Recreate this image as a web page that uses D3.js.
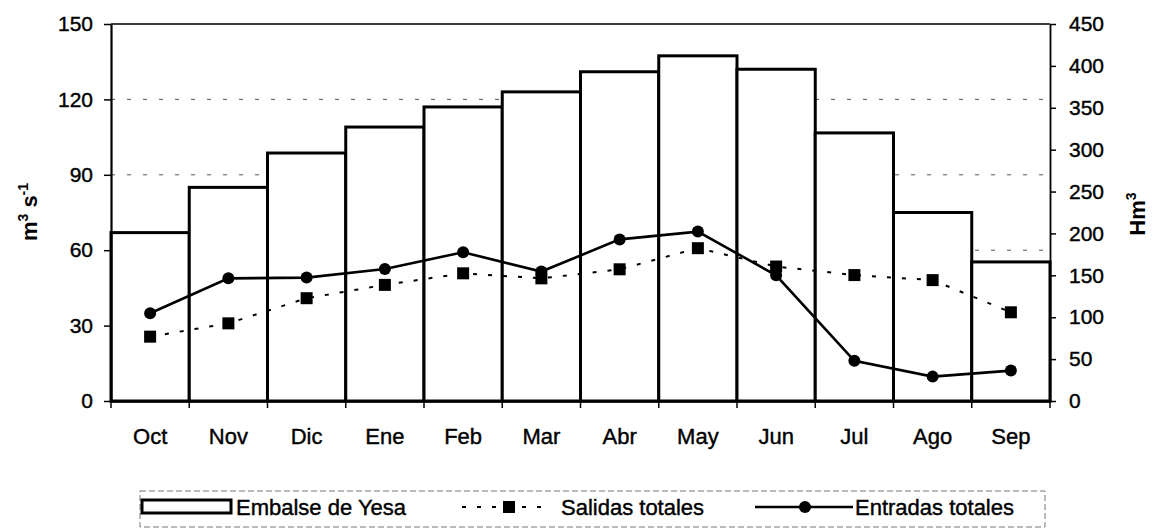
<!DOCTYPE html>
<html>
<head>
<meta charset="utf-8">
<script src="https://cdn.jsdelivr.net/npm/d3@7"></script>
<style>
  html, body { margin: 0; padding: 0; background: #fff; }
  svg { display: block; font-family: "Liberation Sans", Arial, sans-serif; }
</style>
</head>
<body>
<svg id="chart" width="1153" height="529"></svg>
<script>
// ---- data ----
const months = ["Oct","Nov","Dic","Ene","Feb","Mar","Abr","May","Jun","Jul","Ago","Sep"];
const embalse = [201, 255, 296, 327, 351, 369, 393, 412, 396, 320, 225, 166];   // Hm3 (right axis)
const salidas = [25.6, 30.9, 40.9, 46.2, 50.8, 48.8, 52.4, 60.8, 53.5, 50.1, 48.1, 35.3]; // m3 s-1
const entradas = [34.9, 48.8, 49.1, 52.5, 59.2, 51.5, 64.3, 67.4, 50.0, 16.0, 9.7, 12.1]; // m3 s-1
const leftTicks = [0, 30, 60, 90, 120, 150];
const rightTicks = [0, 50, 100, 150, 200, 250, 300, 350, 400, 450];
const gridValues = [60, 90, 120];
const legendLabels = ["Embalse de Yesa", "Salidas totales", "Entradas totales"];

// ---- layout ----
const svg = d3.select("#chart");
const L = 111, R = 1050, T = 24, B = 401;

const x = d3.scaleBand().domain(months).range([L, R]).padding(0);
const yL = d3.scaleLinear().domain([0, 150]).range([B, T]);
const yR = d3.scaleLinear().domain([0, 450]).range([B, T]);

// gridlines (behind bars)
svg.append("g").selectAll("line").data(gridValues).join("line")
  .attr("x1", L).attr("x2", R)
  .attr("y1", d => yL(d)).attr("y2", d => yL(d))
  .attr("stroke", "#555").attr("stroke-width", 1)
  .attr("stroke-dasharray", "4,12");

// bars
svg.append("g").selectAll("rect").data(embalse).join("rect")
  .attr("x", (d, i) => x(months[i]))
  .attr("y", d => yR(d))
  .attr("width", x.bandwidth())
  .attr("height", d => B - yR(d))
  .attr("fill", "#fff")
  .attr("stroke", "#000")
  .attr("stroke-width", 3);

// plot frame top
svg.append("line").attr("x1", L).attr("x2", R).attr("y1", T).attr("y2", T)
  .attr("stroke", "#000").attr("stroke-width", 1.5);

const styleText = sel => sel.attr("fill", "#000").attr("stroke", "#000").attr("stroke-width", 0.4)
  .attr("font-family", "Liberation Sans, Arial, sans-serif");

// left axis
const axL = svg.append("g").attr("transform", `translate(${L},0)`)
  .call(d3.axisLeft(yL).tickValues(leftTicks).tickSize(7).tickSizeOuter(0).tickPadding(11));
axL.select(".domain").attr("stroke-width", 2.2);
axL.selectAll(".tick line").attr("stroke-width", 1.5);
axL.selectAll("text").attr("font-size", 21).call(styleText);

// right axis
const axR = svg.append("g").attr("transform", `translate(${R},0)`)
  .call(d3.axisRight(yR).tickValues(rightTicks).tickSize(6).tickSizeOuter(0).tickPadding(13));
axR.select(".domain").attr("stroke-width", 1.8);
axR.selectAll(".tick line").attr("stroke-width", 1.5);
axR.selectAll("text").attr("font-size", 21).call(styleText);

// bottom axis: labels centered, tick marks at boundaries
const axB = svg.append("g").attr("transform", `translate(0,${B})`)
  .call(d3.axisBottom(x).tickSize(0).tickPadding(27).tickSizeOuter(0));
axB.select(".domain").attr("stroke-width", 2.4);
axB.selectAll("text").attr("font-size", 22).call(styleText);
const bounds = months.map(m => x(m)).concat([x.range()[1]]);
svg.append("g").selectAll("line").data(bounds).join("line")
  .attr("x1", d => d).attr("x2", d => d)
  .attr("y1", B).attr("y2", B + 7)
  .attr("stroke", "#000").attr("stroke-width", 1.5);

// lines
const cx = m => x(m) + x.bandwidth() / 2;
const lineGen = d3.line().x((d, i) => cx(months[i])).y(d => yL(d));

svg.append("path").datum(salidas).attr("d", lineGen)
  .attr("fill", "none").attr("stroke", "#000").attr("stroke-width", 2)
  .attr("stroke-dasharray", "4,11");
svg.append("g").selectAll("rect").data(salidas).join("rect")
  .attr("x", (d, i) => cx(months[i]) - 6).attr("y", d => yL(d) - 6)
  .attr("width", 12).attr("height", 12).attr("fill", "#000");

svg.append("path").datum(entradas).attr("d", lineGen)
  .attr("fill", "none").attr("stroke", "#000").attr("stroke-width", 2.6);
svg.append("g").selectAll("circle").data(entradas).join("circle")
  .attr("cx", (d, i) => cx(months[i])).attr("cy", d => yL(d))
  .attr("r", 6).attr("fill", "#000");

// axis titles
const tL = svg.append("text").attr("transform", `translate(37,212) rotate(-90)`)
  .attr("text-anchor", "middle").attr("font-size", 22).attr("font-weight", "bold");
tL.append("tspan").text("m");
tL.append("tspan").attr("dy", -9).attr("font-size", 14).text("3");
tL.append("tspan").attr("dy", 9).text(" s");
tL.append("tspan").attr("dy", -9).attr("font-size", 14).text("-1");

const tR = svg.append("text").attr("transform", `translate(1145,214) rotate(-90)`)
  .attr("text-anchor", "middle").attr("font-size", 22).attr("font-weight", "bold");
tR.append("tspan").text("Hm");
tR.append("tspan").attr("dy", -9).attr("font-size", 14).text("3");

// legend
const lg = svg.append("g");
lg.append("rect").attr("x", 140).attr("y", 491).attr("width", 905).attr("height", 36)
  .attr("fill", "none").attr("stroke", "#777").attr("stroke-width", 1).attr("stroke-dasharray", "6,3");
const ly = 507;
// Embalse
lg.append("rect").attr("x", 142).attr("y", 500).attr("width", 89).attr("height", 13)
  .attr("fill", "#fff").attr("stroke", "#000").attr("stroke-width", 3);
lg.append("text").attr("x", 236).attr("y", 515).attr("font-size", 22).call(styleText).text(legendLabels[0]);
// Salidas
lg.append("line").attr("x1", 462).attr("x2", 545).attr("y1", ly).attr("y2", ly)
  .attr("stroke", "#000").attr("stroke-width", 2).attr("stroke-dasharray", "4,11");
lg.append("rect").attr("x", 503).attr("y", ly - 6).attr("width", 12).attr("height", 12).attr("fill", "#000");
lg.append("text").attr("x", 561).attr("y", 515).attr("font-size", 22).call(styleText).text(legendLabels[1]);
// Entradas
lg.append("line").attr("x1", 755).attr("x2", 853).attr("y1", ly).attr("y2", ly)
  .attr("stroke", "#000").attr("stroke-width", 2.6);
lg.append("circle").attr("cx", 805).attr("cy", ly).attr("r", 6).attr("fill", "#000");
lg.append("text").attr("x", 855).attr("y", 515).attr("font-size", 22).call(styleText).text(legendLabels[2]);
</script>
</body>
</html>
